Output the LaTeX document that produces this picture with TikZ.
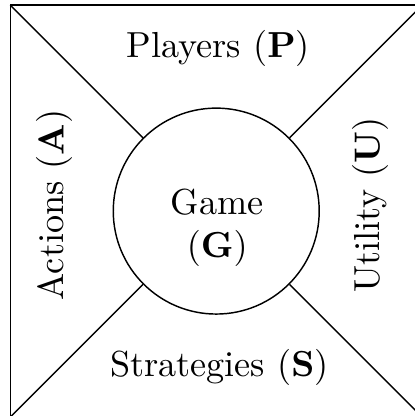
\documentclass[tikz,border=0pt]{standalone}
\usepackage{amsmath,amssymb}
\usepackage{tikz}
\usetikzlibrary{positioning}

\begin{document}
\begin{tikzpicture}[
		part/.style={inner sep=0pt},
		hub/.style={draw,circle,minimum size=2cm,inner sep=0pt}
	]
		
		\useasboundingbox (-0.1,0.01) rectangle (3.93,4.05);
		
		\draw (0,0) rectangle (4,4);
		
		\coordinate (sw) at (0,0);
		\coordinate (se) at (4,0);
		\coordinate (ne) at (4,4);
		\coordinate (nw) at (0,4);
		
		\node[hub] (game) at (2,2) {};
		\node[part,align=center] (gametext) at (2.01,1.84) {Game\\$(\mathbf{G})$};
		
		\foreach \c in {sw,se,ne,nw}
		{
			\draw (\c)--(game);
		}
		
		\node[part] (players) at (2.02,3.58) {Players ($\mathbf{P}$)};
		\node[part] (strategies) at (2.03,0.48) {Strategies ($\mathbf{S}$)};
		\node[part,rotate=90] (actions) at (0.43,2.06) {Actions ($\mathbf{A}$)};
		\node[part,rotate=90] (utility) at (3.5,2.06) {Utility ($\mathbf{U}$)};
		
	\end{tikzpicture}
\end{document}
